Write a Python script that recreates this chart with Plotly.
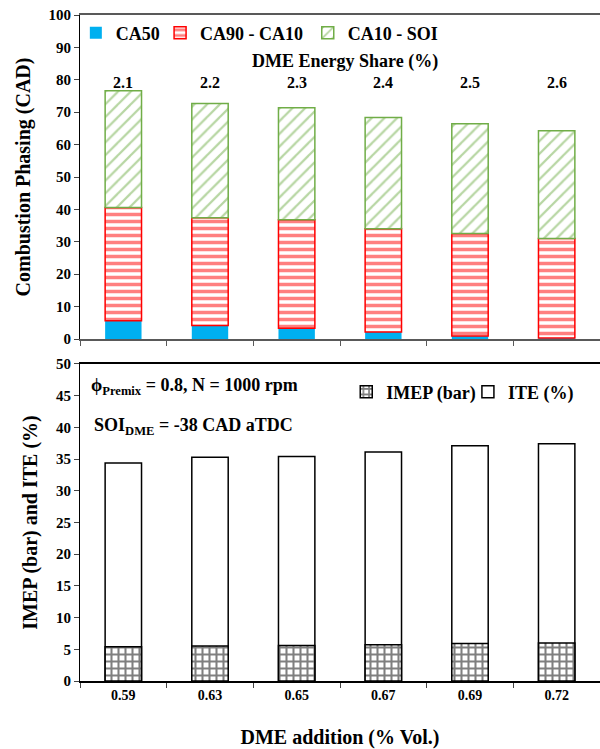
import plotly.graph_objects as go

# ---- data ----
energy_share = ["2.1", "2.2", "2.3", "2.4", "2.5", "2.6"]
dme_addition = ["0.59", "0.63", "0.65", "0.67", "0.69", "0.72"]
ca50 = [5.6, 4.2, 3.3, 2.2, 0.9, 0.3]
ca90_ca10 = [35.0, 33.2, 33.5, 31.8, 31.7, 30.7]
ca10_soi = [36.0, 35.3, 34.6, 34.4, 33.8, 33.3]
imep = [5.4, 5.5, 5.6, 5.7, 5.9, 6.0]
ite = [34.4, 35.3, 35.4, 36.1, 37.1, 37.4]

FONT = "Liberation Serif"
BW = 0.42

base2 = ca50
base3 = [a + b for a, b in zip(ca50, ca90_ca10)]

fig = go.Figure()

# ---- top chart ----
fig.add_trace(go.Bar(
    x=energy_share, y=ca50, name="CA50", width=BW, showlegend=True,
    marker=dict(color="#00B0F0", line=dict(width=0)),
    xaxis="x", yaxis="y", legend="legend"))
fig.add_trace(go.Bar(
    x=energy_share, y=ca90_ca10, base=base2, name="CA90 - CA10", width=BW,
    marker=dict(color="white", line=dict(color="#FF0000", width=1.5),
                pattern=dict(shape="-", fgcolor="#FF0000", bgcolor="white",
                             size=7, solidity=0.5)),
    xaxis="x", yaxis="y", legend="legend3"))
fig.add_trace(go.Bar(
    x=energy_share, y=ca10_soi, base=base3, name="CA10 - SOI", width=BW,
    marker=dict(color="white", line=dict(color="#70AD47", width=1.5),
                pattern=dict(shape="/", fgcolor="#70AD47", bgcolor="white",
                             size=9, solidity=0.25)),
    xaxis="x", yaxis="y", legend="legend4"))

# ---- bottom chart ----
fig.add_trace(go.Bar(
    x=dme_addition, y=ite, name="ITE (%)", width=BW,
    marker=dict(color="white", line=dict(color="black", width=1.5)),
    xaxis="x2", yaxis="y2", legend="legend5"))
fig.add_trace(go.Bar(
    x=dme_addition, y=imep, name="IMEP (bar)", width=BW,
    marker=dict(color="white", line=dict(color="black", width=1.5),
                pattern=dict(shape="+", fgcolor="black", bgcolor="white",
                             size=7, solidity=0.5)),
    xaxis="x2", yaxis="y2", legend="legend2"))

tickfont = dict(family=FONT, size=15, color="black", weight="bold")
titlefont = dict(family=FONT, size=20, color="black", weight="bold")
legfont = dict(family=FONT, size=18, color="black", weight="bold")

annotations = [
    dict(x=i, y=0.793, xref="x", yref="y domain", yanchor="middle", text=f"<b>{c}</b>",
         showarrow=False, font=dict(family=FONT, size=16, color="black"))
    for i, c in enumerate(energy_share)
]
annotations += [
    dict(x=0.51, y=0.855, xref="paper", yref="y domain", yanchor="middle",
         text="<b>DME Energy Share (%)</b>", showarrow=False,
         font=dict(family=FONT, size=18, color="black")),
    dict(x=0.017, y=0.97, xref="paper", yref="y2 domain", xanchor="left", yanchor="top",
         text="<b>ϕ<sub>Premix</sub> = 0.8, N = 1000 rpm</b>", showarrow=False,
         font=dict(family=FONT, size=18, color="black")),
    dict(x=0.023, y=0.846, xref="paper", yref="y2 domain", xanchor="left", yanchor="top",
         text="<b>SOI<sub>DME</sub> = -38 CAD aTDC</b>", showarrow=False,
         font=dict(family=FONT, size=18, color="black")),
]


def leg(x, y):
    return dict(orientation="h", x=x, y=y, xanchor="left", yanchor="middle",
                font=legfont, bgcolor="rgba(0,0,0,0)", itemwidth=30, visible=True)


fig.update_layout(
    width=600, height=749,
    margin=dict(l=80, r=0, t=15, b=68, autoexpand=False),
    paper_bgcolor="white", plot_bgcolor="white",
    barmode="overlay", showlegend=True,
    font=dict(family=FONT, color="black"),
    xaxis=dict(domain=[0, 1], anchor="y", type="category", automargin=False,
               showline=True, linecolor="#595959", linewidth=1.5, mirror=True,
               ticks="outside", tickson="boundaries", ticklen=5, tickcolor="#595959",
               showticklabels=False, showgrid=False),
    yaxis=dict(domain=[0.5135, 1.0], anchor="x", range=[0, 100], dtick=10,
               automargin=False,
               showline=True, linecolor="black", linewidth=1,
               ticks="outside", ticklen=5, showgrid=False, zeroline=False,
               tickfont=tickfont,
               title=dict(text="Combustion Phasing (CAD)", font=titlefont, standoff=12)),
    xaxis2=dict(domain=[0, 1], anchor="y2", type="category", automargin=False,
                showline=True, linecolor="black", linewidth=1.5, mirror=True,
                ticks="outside", tickson="boundaries", ticklen=5,
                showgrid=False, tickfont=dict(family=FONT, size=14, color="black", weight="bold"),
                title=dict(text="DME addition (% Vol.)", font=titlefont, standoff=29)),
    yaxis2=dict(domain=[0, 0.476], anchor="x2", range=[0, 50], dtick=5,
                automargin=False,
                showline=True, linecolor="black", linewidth=1,
                ticks="outside", ticklen=5, showgrid=False, zeroline=False,
                tickfont=tickfont,
                title=dict(text="IMEP (bar) and ITE (%)", font=titlefont, standoff=12)),
    legend=leg(-0.008, 0.973),
    legend3=leg(0.154, 0.973),
    legend4=leg(0.438, 0.973),
    legend2=leg(0.512, 0.434),
    legend5=leg(0.746, 0.434),
    annotations=annotations,
)

fig.write_html("out.html", config={"displayModeBar": False},
               post_script="document.body.style.margin='0px';")
